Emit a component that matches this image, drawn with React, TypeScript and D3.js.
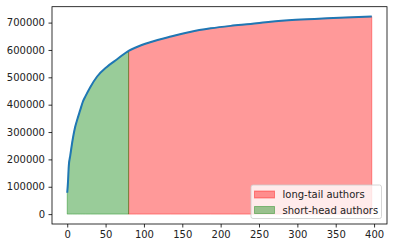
import { useEffect, useRef } from 'react';
import * as d3 from 'd3';

// cumulative contributions (author rank -> running total)
const authorRank = [0, 1, 2, 4, 7, 10, 13, 17, 20, 24, 30, 39, 52, 65, 80, 90, 108, 135, 160, 187, 213, 239, 265, 298, 339, 363, 397];
const cumulative = [78000, 118000, 175000, 215000, 271000, 315000, 345000, 381000, 408000, 432000, 464000, 503000, 539000, 566000, 597000, 610000, 628000, 649000, 666000, 679000, 688000, 695000, 703000, 710000, 716000, 719000, 722000];
const xTicks = [0, 50, 100, 150, 200, 250, 300, 350, 400];
const yTicks = [0, 100000, 200000, 300000, 400000, 500000, 600000, 700000];
const headCutoff = 80;
const legendLabels = ['long-tail authors', 'short-head authors'];

const width = 393;
const height = 248;
const FONT = '"DejaVu Sans", sans-serif';

const CumulativeChart = () => {
  const svgRef = useRef<SVGSVGElement>(null);

  useEffect(() => {
    if (!svgRef.current) return;
    const svg = d3.select(svgRef.current);
    svg.selectAll('*').remove();

    const margin = { top: 6.7, right: 6, bottom: 24, left: 52 };
    const innerWidth = width - margin.left - margin.right;
    const innerHeight = height - margin.top - margin.bottom;

    const pts = authorRank.map((r, i) => ({ x: r, y: cumulative[i] }));
    const xMax = d3.max(authorRank) || 0;
    const yMax = d3.max(cumulative) || 0;

    // matplotlib-like 5% margins around the data
    const x = d3.scaleLinear()
      .domain([-0.05 * xMax, 1.05 * xMax])
      .range([0, innerWidth]);
    const y = d3.scaleLinear()
      .domain([-0.05 * yMax, 1.05 * yMax])
      .range([innerHeight, 0]);

    const g = svg.append('g')
      .attr('transform', `translate(${margin.left},${margin.top})`);

    const area = d3.area<{ x: number; y: number }>()
      .x(d => x(d.x))
      .y0(y(0))
      .y1(d => y(d.y))
      .curve(d3.curveMonotoneX);

    const head = pts.filter(d => d.x <= headCutoff);
    const tail = pts.filter(d => d.x >= headCutoff);

    g.append('path')
      .attr('d', area(tail))
      .attr('fill', 'rgba(255,0,0,0.4)')
      .attr('stroke', 'rgba(255,0,0,0.4)')
      .attr('stroke-width', 1);

    g.append('path')
      .attr('d', area(head))
      .attr('fill', 'rgba(0,128,0,0.4)')
      .attr('stroke', 'rgba(0,128,0,0.4)')
      .attr('stroke-width', 1);

    const line = d3.line<{ x: number; y: number }>()
      .x(d => x(d.x))
      .y(d => y(d.y))
      .curve(d3.curveMonotoneX);

    g.append('path')
      .attr('d', line(pts))
      .attr('fill', 'none')
      .attr('stroke', '#1f77b4')
      .attr('stroke-width', 2);

    // axes
    const xAxis = g.append('g')
      .attr('transform', `translate(0,${innerHeight})`)
      .call(d3.axisBottom(x).tickValues(xTicks).tickSize(3.5).tickPadding(3.5).tickFormat(d3.format('d')));
    const yAxis = g.append('g')
      .call(d3.axisLeft(y).tickValues(yTicks).tickSize(3.5).tickPadding(3.5).tickFormat(d3.format('d')));

    [xAxis, yAxis].forEach(ax => {
      ax.select('.domain').remove();
      ax.selectAll('line').attr('stroke', '#000').attr('stroke-width', 0.8);
      ax.selectAll('text')
        .attr('fill', '#222')
        .style('font-family', FONT)
        .style('font-size', '10px');
    });

    g.append('rect')
      .attr('width', innerWidth)
      .attr('height', innerHeight)
      .attr('fill', 'none')
      .attr('stroke', '#000')
      .attr('stroke-width', 0.8);

    // legend
    const lg = g.append('g')
      .attr('transform', `translate(${251 - margin.left},${185 - margin.top})`);
    lg.append('rect')
      .attr('width', 130.5)
      .attr('height', 33.5)
      .attr('rx', 2)
      .attr('fill', 'rgba(255,255,255,0.8)')
      .attr('stroke', '#ccc')
      .attr('stroke-width', 0.8);

    const legendColors = [
      ['rgba(255,0,0,0.4)', 'rgba(255,0,0,0.4)'],
      ['rgba(0,128,0,0.4)', 'rgba(0,128,0,0.4)'],
    ];
    legendLabels.forEach((label, i) => {
      const row = lg.append('g').attr('transform', `translate(0,${i * 15.5})`);
      row.append('rect')
        .attr('x', 3.5)
        .attr('y', 6)
        .attr('width', 20)
        .attr('height', 7)
        .attr('fill', legendColors[i][0])
        .attr('stroke', legendColors[i][1])
        .attr('stroke-width', 1);
      row.append('text')
        .attr('x', 31.5)
        .attr('y', 13.3)
        .attr('fill', '#222')
        .style('font-family', FONT)
        .style('font-size', '10px')
        .text(label);
    });
  }, []);

  return (
    <svg
      ref={svgRef}
      width={width}
      height={height}
      style={{ position: 'absolute', left: 0, top: 0, background: '#fff' }}
    />
  );
};

export default function App() {
  return <CumulativeChart />;
}
